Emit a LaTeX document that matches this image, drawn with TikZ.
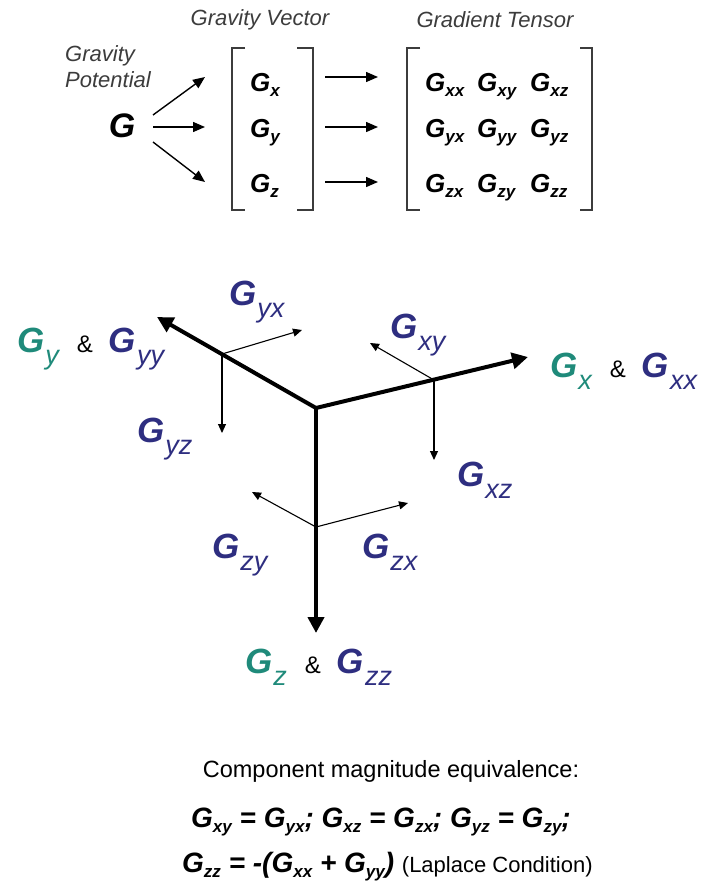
\documentclass[tikz,border=0pt]{standalone}
\usepackage{fontspec}
\setmainfont{Liberation Sans}
\usetikzlibrary{arrows.meta}
\definecolor{axis-teal}{HTML}{1F8A7A}
\definecolor{comp-navy}{HTML}{2E2E80}
\definecolor{label-gray}{HTML}{3C3C3C}

\newcommand{\fsz}[1]{\fontsize{#1}{#1}\selectfont}
% G with bold subscript (matrices, equations)
\newcommand{\Gm}[2][17]{{\bfseries\itshape G\raisebox{-5pt}{\fsz{#1}#2}}}
% G with thin subscript (axes picture)
\newcommand{\Gd}[1]{{\bfseries\itshape G}\hspace{1pt}\raisebox{-12pt}{\fsz{27}\itshape #1}}
\newcommand{\amp}{\hspace{18pt}\textcolor{black}{\fsz{24}\&}\hspace{16pt}}

\begin{document}
\begin{tikzpicture}[x=1pt, y=-1pt,
  every node/.style={inner sep=0pt, font=\fsz{22}},
  caption/.style={text=label-gray, font=\fsz{22}\itshape},
  entry/.style={anchor=base west, font=\fsz{26}},
  comp/.style={anchor=base west, text=comp-navy, font=\fsz{35}},
  feed/.style={line width=1.4pt, -{Triangle[length=12pt,width=10pt]}},
  bracket/.style={line width=1.4pt, draw=label-gray},
  mainaxis/.style={line width=4pt, -{Triangle[length=16pt,width=16pt]}},
  branch/.style={line width=1.1pt, -{Triangle[length=9pt,width=8pt]}}]
  \useasboundingbox (0,0) rectangle (708,883);

  % potential -> vector -> tensor
  \node[caption] (capvec) at (260,20) {Gravity Vector};
  \node[caption] (capten) at (495,20) {Gradient Tensor};
  \node[caption, anchor=base west] (cappot) at (65,62) {Gravity};
  \node[caption, anchor=base west] (cappot2) at (65,87) {Potential};
  \node[font=\fsz{34}\bfseries\itshape, anchor=base] (gpot) at (122,137) {G};

  \foreach \i/\s/\b/\a/\g in {1/x/92/77/115, 2/y/137/127/127, 3/z/192/182/142} {
    \node[entry] (v\i) at (250,\b) {\Gm{\s}};
    \coordinate (gp\i) at (153,\g);
    \coordinate (in\i) at (205,\a);
    \coordinate (out\i) at (325,\a);
    \coordinate (to\i) at (378,\a);
    \draw[feed] (gp\i) -- (in\i);
    \draw[feed] (out\i) -- (to\i);
  }
  \foreach \r/\s/\b in {1/x/92, 2/y/137, 3/z/192}
    \foreach \c/\t/\xx in {1/x/425, 2/y/477, 3/z/530}
      \node[entry] (t\r\c) at (\xx,\b) {\Gm{\s\t}};

  \draw[bracket] (245,48) -- (232,48) -- (232,210) -- (245,210);
  \draw[bracket] (297,48) -- (313,48) -- (313,210) -- (297,210);
  \draw[bracket] (420,48) -- (407,48) -- (407,210) -- (420,210);
  \draw[bracket] (580,48) -- (592,48) -- (592,210) -- (580,210);

  % axes
  \coordinate (O) at (316,408);
  \coordinate (xtip) at (528,357);
  \coordinate (ytip) at (157,317);
  \coordinate (ztip) at (316,633);
  \draw[mainaxis] (O) -- (xtip);
  \draw[mainaxis] (O) -- (ytip);
  \draw[mainaxis] (O) -- (ztip);

  \coordinate (by) at (222,354);
  \coordinate (bx) at (434,380);
  \coordinate (bz) at (316,527);
  \coordinate (yx) at (302,330);
  \coordinate (yz) at (222,433);
  \coordinate (xy) at (370,343);
  \coordinate (xz) at (434,460);
  \coordinate (zy) at (252,492);
  \coordinate (zx) at (408,503);
  \foreach \p/\q in {by/yx, by/yz, bx/xy, bx/xz, bz/zy, bz/zx}
    \draw[branch] (\p) -- (\q);

  \node[comp] (gyx) at (229,305) {\Gd{yx}};
  \node[comp] (gyz) at (137,442) {\Gd{yz}};
  \node[comp] (gxy) at (390,338) {\Gd{xy}};
  \node[comp] (gxz) at (457,486) {\Gd{xz}};
  \node[comp] (gzy) at (212,558) {\Gd{zy}};
  \node[comp] (gzx) at (362,558) {\Gd{zx}};

  \node[comp] (ylab) at (17,352)
    {\textcolor{axis-teal}{\Gd{y}}\amp\Gd{yy}};
  \node[comp] (xlab) at (550,377)
    {\textcolor{axis-teal}{\Gd{x}}\amp\Gd{xx}};
  \node[comp] (zlab) at (245,673)
    {\textcolor{axis-teal}{\Gd{z}}\amp\Gd{zz}};

  % equivalence
  \node[anchor=base, font=\fsz{23.5}] (equiv) at (391,777) {Component magnitude equivalence:};
  \node[anchor=base, font=\fsz{28}\bfseries\itshape] (sym) at (381,827)
    {\Gm{xy} = \Gm{yx}; \Gm{xz} = \Gm{zx}; \Gm{yz} = \Gm{zy};};
  \node[anchor=base west, font=\fsz{28}\bfseries\itshape] (laplace) at (182,872)
    {\Gm{zz} = -(\Gm{xx} + \Gm{yy}) {\normalfont\fsz{22}(Laplace Condition)}};
\end{tikzpicture}
\end{document}
